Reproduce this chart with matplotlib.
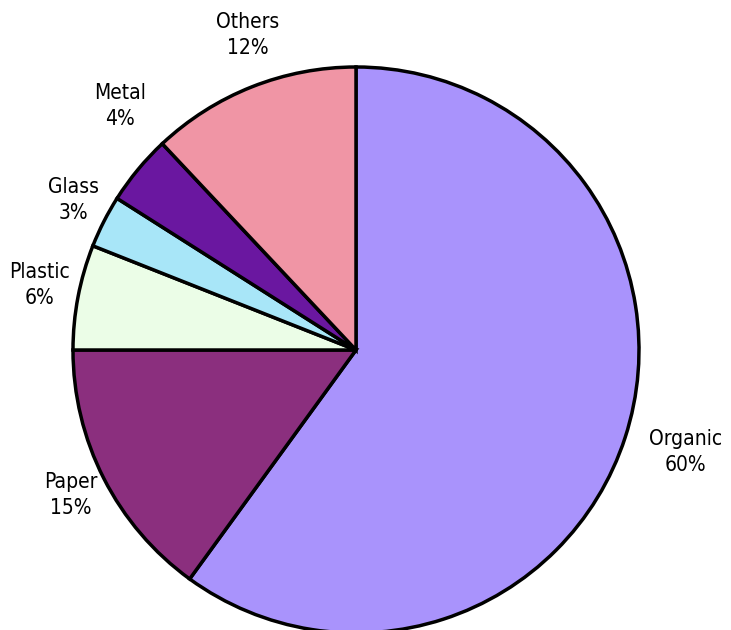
import numpy as np
import matplotlib.pyplot as plt

# waste composition
categories = ["Organic", "Paper", "Plastic", "Glass", "Metal", "Others"]
shares = [60, 15, 6, 3, 4, 12]
colors = ["#A993FC", "#8B2F7E", "#EBFDE7", "#A8E6F8", "#6A17A0", "#F095A5"]

# label placement: radial distance (pie radii) and angular nudge (deg)
label_dist = [1.22, 1.13, 1.14, 1.13, 1.20, 1.177]
label_nudge = [0.8, 0.0, -0.8, -1.0, -6.4, -2.6]

plt.rcParams["font.family"] = ["DejaVu Sans"]

fig = plt.figure(figsize=(7.31, 6.30), dpi=100)
ax = fig.add_axes([0, 0, 1, 1])

wedges, _ = ax.pie(shares, colors=colors, startangle=90, counterclock=False,
                   wedgeprops=dict(edgecolor="black", linewidth=2.5))

for w, name, val, d, nd in zip(wedges, categories, shares, label_dist, label_nudge):
    mid = np.deg2rad((w.theta1 + w.theta2) / 2 + nd)
    ax.text(d * np.cos(mid), d * np.sin(mid), f"{name}\n{val}%",
            ha="center", va="center", fontsize=15, fontstretch="condensed",
            linespacing=1.4)

# pie centre at (356, 350) px, radius 283 px
r = 283.0
ax.set_xlim(-356 / r, (731 - 356) / r)
ax.set_ylim(-(630 - 350) / r, 350 / r)
ax.set_aspect("auto")
ax.axis("off")

fig.savefig("out.png", dpi=100)
